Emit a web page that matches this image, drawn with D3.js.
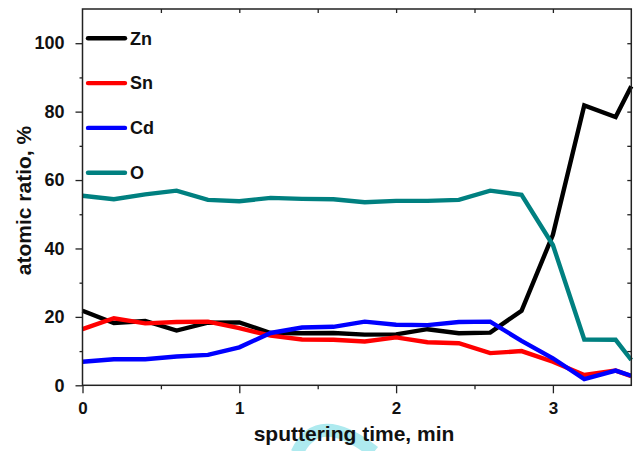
<!DOCTYPE html>
<html>
<head>
<meta charset="utf-8">
<script src="https://cdn.jsdelivr.net/npm/d3@7"></script>
<style>
  body { margin: 0; background: #fff; }
  text { font-family: Arial, "Liberation Sans", sans-serif; font-weight: bold; fill: #111; }
</style>
</head>
<body>
<div id="chart"></div>
<script>
// ======= data
var times = [0, 0.2, 0.4, 0.6, 0.8, 1.0, 1.2, 1.4, 1.6, 1.8, 2.0, 2.2, 2.4, 2.6, 2.8, 3.0, 3.2, 3.4, 3.5];
var zn = [21.8, 18.2, 18.8, 16.0, 18.3, 18.4, 15.3, 15.2, 15.3, 14.8, 14.9, 16.4, 15.2, 15.4, 21.8, 44.0, 81.8, 78.4, 87.4];
var sn = [16.4, 19.6, 18.1, 18.5, 18.6, 16.7, 14.5, 13.4, 13.3, 12.8, 14.0, 12.6, 12.3, 9.4, 10.0, 6.9, 3.0, 4.3, 2.7];
var cd = [6.9, 7.6, 7.6, 8.4, 8.9, 11.1, 15.3, 16.9, 17.1, 18.6, 17.7, 17.6, 18.5, 18.6, 13.0, 7.9, 1.8, 4.3, 2.8];
var ox = [55.4, 54.4, 55.8, 56.9, 54.2, 53.8, 54.8, 54.5, 54.4, 53.5, 53.9, 53.9, 54.2, 56.9, 55.7, 41.0, 13.4, 13.3, 7.4];

var seriesNames = ["Zn", "Sn", "Cd", "O"];
var seriesColors = ["#000000", "#ff0000", "#0000ff", "#008080"];
var seriesValues = [zn, sn, cd, ox];

var xTicks = [0, 1, 2, 3];
var yTicks = [0, 20, 40, 60, 80, 100];

var W = 636, H = 451;
var pLeft = 82.5, pRight = 631.3, pTop = 9, pBottom = 385.3;

var svg = d3.select("#chart").append("svg")
  .attr("width", W)
  .attr("height", H);

var x = d3.scaleLinear().domain([0, 3.5]).range([pLeft, pRight]);
var y = d3.scaleLinear().domain([0, 110]).range([pBottom, pTop]);

// ======= faint watermark arc behind the x title
svg.append("path")
  .attr("d", "M 297 453 Q 318 408 374 452")
  .attr("fill", "none")
  .attr("stroke", "#aeeaef")
  .attr("stroke-width", 13);

// ======= data lines
var line = d3.line()
  .x(function(d, i) { return x(times[i]); })
  .y(function(d) { return y(d); });

seriesValues.forEach(function(vals, k) {
  svg.append("path")
    .datum(vals)
    .attr("d", line)
    .attr("fill", "none")
    .attr("stroke", seriesColors[k])
    .attr("stroke-width", 4.4)
    .attr("stroke-linejoin", "miter");
});

// ======= axes (box with ticks)
var axisColor = "#222";

var xLab = svg.append("g")
  .attr("transform", "translate(0," + pBottom + ")")
  .call(d3.axisBottom(x).tickValues(xTicks).tickFormat(d3.format("d")).tickSize(8).tickPadding(8.5));
svg.append("g")
  .attr("transform", "translate(0," + pBottom + ")")
  .call(d3.axisBottom(x).tickValues([0.5, 1.5, 2.5]).tickFormat("").tickSize(4));

var yLab = svg.append("g")
  .attr("transform", "translate(" + pLeft + ",0)")
  .call(d3.axisLeft(y).tickValues(yTicks).tickSize(7).tickPadding(11));
svg.append("g")
  .attr("transform", "translate(" + pLeft + ",0)")
  .call(d3.axisLeft(y).tickValues([10, 30, 50, 70, 90]).tickFormat("").tickSize(3));

svg.append("g")
  .attr("transform", "translate(0," + pTop + ")")
  .call(d3.axisBottom(x).tickValues([0.5, 1, 1.5, 2, 2.5, 3]).tickFormat("").tickSize(4));
svg.append("g")
  .attr("transform", "translate(" + pRight + ",0)")
  .call(d3.axisLeft(y).tickValues([10, 20, 30, 40, 50, 60, 70, 80, 90, 100]).tickFormat("").tickSize(4));

svg.selectAll(".domain").remove();
svg.selectAll(".tick line").attr("stroke", axisColor).attr("stroke-width", 1.3);
svg.selectAll(".tick text")
  .attr("font-family", "Arial, 'Liberation Sans', sans-serif")
  .attr("font-weight", "bold")
  .attr("fill", "#111");
xLab.selectAll(".tick text").attr("font-size", "17px");
yLab.selectAll(".tick text").attr("font-size", "18px");

svg.append("rect")
  .attr("x", pLeft)
  .attr("y", pTop)
  .attr("width", pRight - pLeft)
  .attr("height", pBottom - pTop)
  .attr("fill", "none")
  .attr("stroke", axisColor)
  .attr("stroke-width", 1.5);

// ======= legend
var legend = svg.selectAll(".leg")
  .data(seriesNames)
  .enter()
  .append("g")
  .attr("class", "leg")
  .attr("transform", function(d, i) { return "translate(0," + (38.3 + i * 44.8) + ")"; });

legend.append("line")
  .attr("x1", 88)
  .attr("x2", 125)
  .attr("stroke", function(d, i) { return seriesColors[i]; })
  .attr("stroke-width", 4.4)
  .attr("stroke-linecap", "round");

legend.append("text")
  .attr("x", 130)
  .attr("y", 6.2)
  .attr("font-size", "18px")
  .text(function(d) { return d; });

// ======= axis titles
svg.append("text")
  .attr("x", 354)
  .attr("y", 441)
  .attr("text-anchor", "middle")
  .attr("font-size", "21px")
  .text("sputtering time, min");

svg.append("text")
  .attr("transform", "translate(30.5,200.5) rotate(-90)")
  .attr("text-anchor", "middle")
  .attr("font-size", "21px")
  .text("atomic ratio, %");
</script>
</body>
</html>
